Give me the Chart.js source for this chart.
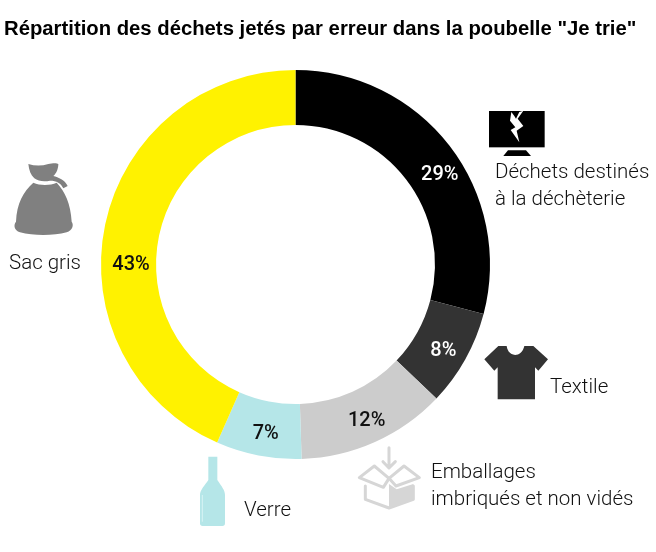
<!DOCTYPE html>
<html lang="fr"><head><meta charset="utf-8">
<script src="https://cdn.jsdelivr.net/npm/chart.js@4"></script>
<style>
html,body{margin:0;padding:0;background:#fff;overflow:hidden}
#wrap{position:absolute;left:0;top:0;width:656px;height:552px}
#icons{position:absolute;left:0;top:0;pointer-events:none}
</style></head><body>
<div id="wrap"><canvas id="c" width="656" height="552"></canvas></div>
<svg id="icons" width="656" height="552" viewBox="0 0 656 552">
  <g transform="translate(470,90) scale(.33333)">
    <rect x="57" y="63" width="167" height="109" fill="#000"/>
    <path d="M100,198 L114,181 L168,181 L183,198 Z" fill="#000"/>
    <path d="M124,66 L120,92 L136,112 L122,120 L148,157 L140,122 L160,108 L143,86 L160,62 L148,66 L138,86 L133,78 Z" fill="#fff"/>
  </g>
  <g transform="translate(0,150) scale(.33333)" fill="#808080">
    <path d="M85,42 C105,48 125,48 145,42 C155,40 170,38 175,42 C175,55 170,70 160,78 C175,82 195,90 203,108 L190,115 C183,100 170,92 150,92 C135,95 115,95 103,85 C92,75 87,60 85,42 Z"/>
    <path d="M100,98 C120,107 150,107 170,98 C195,125 212,160 215,215 C222,225 218,240 200,247 C160,258 100,258 60,247 C42,240 40,225 48,215 C50,160 70,125 100,98 Z"/>
  </g>
  <g transform="translate(470,330) scale(.33333)">
    <path d="M85,48 L110,48 C115,84 155,84 163,48 L190,48 L234,88 L205,122 L195,112 L195,208 L83,208 L83,112 L73,122 L43,88 Z" fill="#333"/>
  </g>
  <g transform="translate(190,380) scale(.33333)">
    <path d="M55,230 L82,230 L82,300 C95,320 105,330 105,345 L105,430 Q105,438 97,438 L38,438 Q30,438 30,430 L30,345 C30,330 45,315 55,300 Z" fill="#b5e6e8"/>
    <path d="M37,345 L37,425" stroke="#d8f3f4" stroke-width="3" fill="none"/>
    <g stroke="#d6d6d6" stroke-width="9" fill="none" stroke-linejoin="round" stroke-linecap="round">
      <path d="M597,203 L597,262 M579,245 L597,264 L616,245"/>
      <path d="M526,318 L526,358 L597,384 L670,358 L670,318"/>
      <path d="M553,258 L508,293 L580,322 L597,295 Z"/>
      <path d="M642,258 L688,293 L618,318 L597,295 Z"/>
    </g>
    <path d="M597,312 L620,328 L670,312 L670,358 L597,384 Z" fill="#d6d6d6"/>
  </g>
</svg>
<script>
const categories = ["Déchets destinés à la déchèterie","Textile","Emballages imbriqués et non vidés","Verre","Sac gris"];
const values = [29.1, 8, 12.4, 7.1, 43.4];
const valueLabels = ["29%","8%","12%","7%","43%"];
const colors = ["#000000","#333333","#cccccc","#b5e6e8","#fff200"];
const labelColors = ["#ffffff","#ffffff","#111111","#111111","#111111"];
const labelNudges = [[12,12],[2,5],[3,4],[2,6],[-1,35]];
const titleText = 'Répartition des déchets jetés par erreur dans la poubelle "Je trie"';
const captionLines = [["Déchets destinés","à la déchèterie"],["Textile"],["Emballages","imbriqués et non vidés"],["Verre"],["Sac gris"]];
const captionAnchors = [[495,178],[550,393],[431,478],[244,516],[9,269]];
const captionLeading = 27;

const annotate = {
  id:'annotate',
  afterDatasetsDraw(chart){
    const ctx = chart.ctx, arcs = chart.getDatasetMeta(0).data;
    ctx.save();
    ctx.textBaseline='alphabetic'; ctx.textAlign='left';
    ctx.font='bold 20.3px "Liberation Sans"'; ctx.fillStyle='#000';
    ctx.fillText(titleText,4,35);
    ctx.textBaseline='middle'; ctx.textAlign='center';
    ctx.font='500 20px Roboto';
    arcs.forEach((a,i)=>{
      const p=a.getCenterPoint();
      ctx.fillStyle=labelColors[i];
      ctx.fillText(valueLabels[i],p.x+labelNudges[i][0],p.y+labelNudges[i][1]);
    });
    ctx.textBaseline='alphabetic'; ctx.textAlign='left';
    ctx.font='300 20.5px Roboto'; ctx.fillStyle='#111111';
    captionLines.forEach((lines,i)=>lines.forEach((t,j)=>{
      ctx.fillText(t,captionAnchors[i][0],captionAnchors[i][1]+j*captionLeading);
    }));
    ctx.restore();
  }
};
new Chart(document.getElementById('c'),{
  type:'doughnut',
  data:{labels:categories,datasets:[{data:values,backgroundColor:colors,borderWidth:0}]},
  options:{
    responsive:false,animation:false,cutout:'71.7%',rotation:0,
    layout:{padding:{left:100,right:165,top:70,bottom:93}},
    plugins:{legend:{display:false},tooltip:{enabled:false},title:{display:false}}
  },
  plugins:[annotate]
});
</script></body></html>
